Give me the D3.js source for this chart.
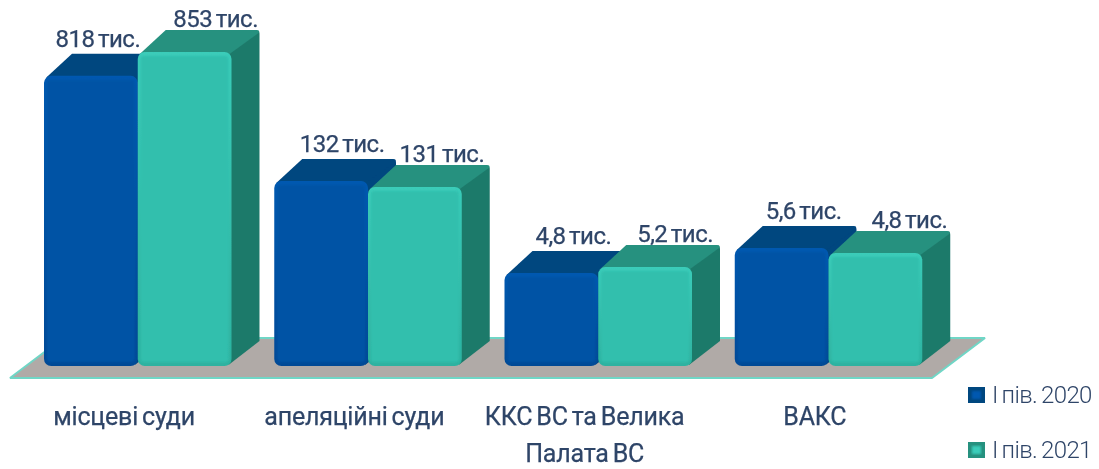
<!DOCTYPE html>
<html>
<head>
<meta charset="utf-8">
<script src="https://cdn.jsdelivr.net/npm/d3@7"></script>
<style>
html, body { margin: 0; padding: 0; background: #fff; }
svg { display: block; }
text { font-family: Roboto, sans-serif; fill: #2f4568; }
.value, .cat { stroke: #2f4568; stroke-width: 0.25; }
</style>
</head>
<body>
<svg></svg>
<script>
const categories = ['місцеві суди', 'апеляційні суди', 'ККС ВС та Велика|Палата ВС', 'ВАКС'];
const seriesNames = ['І пів. 2020', 'І пів. 2021'];
const labels2020 = ['818 тис.', '132 тис.', '4,8 тис.', '5,6 тис.'];
const labels2021 = ['853 тис.', '131 тис.', '5,2 тис.', '4,8 тис.'];
// the bars are not to scale with their labels, so these are heights read off the picture (tallest = 100)
const levels2020 = [92.4, 58.9, 29.6, 37.6];
const levels2021 = [100, 57, 31.5, 36];

const width = 1099;
const height = 469;
const depthX = 28;
const depthY = 22;
const floorBack = 338;
const floorFront = 378;
const baseline = 366;
// the value labels were nudged by hand in the original
const labelDx2020 = [7, 21, 22, 22];
const labelDx2021 = [31, 27, 30, 34];
const labelGap = [29, 25];

const colors = [
	{ front: '#0353a5', edge: '#0659b0', low: '#034a96', top: '#03467f', side: '#03467f' },
	{ front: '#33bfad', edge: '#3accb9', low: '#2db2a0', top: '#26917f', side: '#1f7a6b' }
];

const svg = d3.select('svg')
	.attr('width', width)
	.attr('height', height)
	.attr('viewBox', `0 0 ${width} ${height}`);

const defs = svg.append('defs');
defs.append('filter').attr('id', 'soft')
	.append('feGaussianBlur').attr('stdDeviation', 0.7);
defs.append('filter').attr('id', 'inner')
	.append('feGaussianBlur').attr('stdDeviation', 1.2);

colors.forEach((c, i) => {
	const grad = defs.append('linearGradient')
		.attr('id', `edge${i}`)
		.attr('x1', 0).attr('x2', 0).attr('y1', 0).attr('y2', 1);
	grad.append('stop').attr('offset', 0).attr('stop-color', c.edge);
	grad.append('stop').attr('offset', 1).attr('stop-color', c.low);
});

const x = d3.scaleBand()
	.domain(categories)
	.range([9, 930]);

const xSeries = d3.scaleBand()
	.domain(seriesNames)
	.range([35, 222.5]);

const y = d3.scaleLinear()
	.domain([0, 100])
	.range([baseline, 52]);

const root = svg.append('g').attr('filter', 'url(#soft)');

// floor
root.append('path')
	.attr('d', `M10,${floorFront}L932,${floorFront}L985,${floorBack}L63,${floorBack}Z`)
	.attr('fill', '#b0aaa7');
root.append('path')
	.attr('d', `M63,${floorBack}L10,${floorFront}L932,${floorFront}L985,${floorBack}L63,${floorBack}`)
	.attr('fill', 'none')
	.attr('stroke', '#6fd6c6')
	.attr('stroke-linejoin', 'bevel')
	.attr('stroke-width', 2);

const bars = [];
categories.forEach((cat, i) => {
	bars.push({ cat, series: seriesNames[0], s: 0, level: levels2020[i], label: labels2020[i], dx: labelDx2020[i] });
	bars.push({ cat, series: seriesNames[1], s: 1, level: levels2021[i], label: labels2021[i], dx: labelDx2021[i] });
});

const bar = root.selectAll('g.bar')
	.data(bars)
	.join('g')
	.attr('class', 'bar');

bar.each(function(d) {
	const g = d3.select(this);
	const c = colors[d.s];
	const x0 = x(d.cat) + xSeries(d.series);
	const x1 = x0 + xSeries.bandwidth();
	const yTop = y(d.level);

	g.append('path')
		.attr('d', `M${x1 - 4},${yTop}L${x1 + depthX - 3},${yTop - depthY + 1}Q${x1 + depthX},${yTop - depthY}` +
			` ${x1 + depthX},${yTop - depthY + 4}L${x1 + depthX},${baseline - depthY - 3}L${x1 - 3},${baseline - 1}Z`)
		.attr('fill', c.side);
	g.append('path')
		.attr('d', `M${x0 + 2},${yTop + 2}L${x0 + depthX},${yTop - depthY}L${x1 + depthX - 3},${yTop - depthY}` +
			`Q${x1 + depthX + 1},${yTop - depthY} ${x1 + depthX - 1},${yTop - depthY + 3}L${x1 - 2},${yTop + 2}Z`)
		.attr('fill', c.top);
	g.append('rect')
		.attr('x', x0).attr('y', yTop)
		.attr('width', x1 - x0).attr('height', baseline - yTop)
		.attr('rx', 7)
		.attr('fill', `url(#edge${d.s})`);
	g.append('rect')
		.attr('x', x0 + 3).attr('y', yTop + 4)
		.attr('width', x1 - x0 - 6).attr('height', baseline - yTop - 8)
		.attr('rx', 3)
		.attr('fill', c.front)
		.attr('filter', 'url(#inner)');
});

// value labels sit above the back edge of each top face
root.selectAll('text.value')
	.data(bars)
	.join('text')
	.attr('class', 'value')
	.attr('x', d => x(d.cat) + xSeries(d.series) + xSeries.bandwidth() / 2 + d.dx)
	.attr('y', d => y(d.level) - labelGap[d.s])
	.attr('text-anchor', 'middle')
	.attr('font-size', 24)
	.attr('letter-spacing', -0.5)
	.attr('word-spacing', -2)
	.text(d => d.label);

// category labels
root.selectAll('text.cat')
	.data(categories)
	.join('text')
	.attr('class', 'cat')
	.attr('text-anchor', 'middle')
	.attr('font-size', 25)
	.attr('letter-spacing', -0.2)
	.attr('word-spacing', -2)
	.attr('y', 425)
	.selectAll('tspan')
	.data(d => d.split('|').map(line => ({ line, cat: d })))
	.join('tspan')
	.attr('x', d => x(d.cat) + x.bandwidth() / 2)
	.attr('dy', (d, i) => i ? 37 : 0)
	.text(d => d.line);

// legend
const legendY = d3.scalePoint()
	.domain(seriesNames)
	.range([395, 450]);

const legend = root.selectAll('g.legend')
	.data(seriesNames)
	.join('g')
	.attr('class', 'legend')
	.attr('transform', d => `translate(968,${legendY(d)})`);

legend.append('rect')
	.attr('y', -8).attr('width', 17).attr('height', 16)
	.attr('fill', (d, i) => colors[i].top);
legend.append('rect')
	.attr('x', 4).attr('y', -4).attr('width', 9).attr('height', 8)
	.attr('fill', (d, i) => i ? '#3accb9' : '#0659b0')
	.attr('filter', 'url(#inner)');
legend.append('text')
	.attr('x', 24)
	.attr('y', 8)
	.attr('font-size', 24)
	.attr('font-weight', 300)
	.attr('letter-spacing', -0.6)
	.attr('word-spacing', -1.5)
	.text(d => d);
</script>
</body>
</html>
